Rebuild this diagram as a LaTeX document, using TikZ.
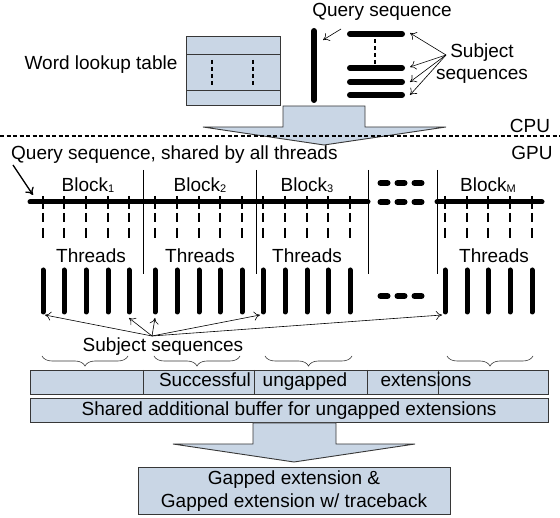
\documentclass[tikz,border=0pt]{standalone}
\usepackage{fontspec}
\setmainfont{Liberation Sans}
\usetikzlibrary{arrows.meta,decorations.pathreplacing}

\definecolor{boxblue}{RGB}{201,214,229}
\definecolor{edgegray}{RGB}{55,55,55}
\newcommand{\blocksub}[1]{\raisebox{-0.5pt}{\fontsize{11}{11}\selectfont #1}}

\begin{document}
\begin{tikzpicture}[x=1pt, y=-1pt,
    every node/.style={font=\fontsize{19}{22}\selectfont, inner sep=0pt, anchor=base},
    bluebox/.style={draw=edgegray, fill=boxblue, line width=0.9pt},
    seqbar/.style={line width=5pt, line cap=round},
    thinarrow/.style={-{To[length=6pt,width=9pt]}, line width=0.6pt},
    tick/.style={line width=1.1pt},
    sepline/.style={line width=0.7pt},
    curly/.style={decorate, decoration={brace, mirror, amplitude=10pt}, line width=0.6pt, edgegray}]
  \useasboundingbox (0,0) rectangle (560,518);

  % ---- CPU side: lookup table and sequences
  \node (wlt) at (101,70) {Word lookup table};
  \draw[bluebox] (186,36) rectangle (280,105);
  \draw[edgegray, line width=0.9pt] (186,54) -- (280,54) (186,90) -- (280,90);
  \draw[dashed, line width=1.3pt, dash pattern=on 4pt off 3pt] (212,60) -- (212,86) (253,60) -- (253,86);

  \node (qtitle) at (382,17) {Query sequence};
  \draw[seqbar, line width=6pt] (314,31) -- (314,100);
  \coordinate (qfrom) at (341,29);
  \coordinate (qto) at (323,40);
  \draw[thinarrow] (qfrom) -- (qto);

  \foreach \y in {34,68,82,95}
    \draw[seqbar, line width=6pt] (350,\y) -- (402,\y);
  \draw[line width=1.3pt, dash pattern=on 4pt off 3pt] (375,39) -- (375,64);
  \node[align=center] (subjtop) at (482,80) {Subject\\sequences};
  \coordinate (sfrom) at (446,55);
  \foreach \y/\n in {33/a,67/b,82/c,95/d} {
    \coordinate (s\n) at (410,\y);
    \draw[thinarrow] (sfrom) -- (s\n);
  }

  % transfer arrow CPU -> GPU
  \draw[bluebox] (283,106) -- (365,106) -- (365,127) -- (446,127) -- (324,145)
    -- (203,127) -- (283,127) -- cycle;

  \draw[line width=1.8pt, dash pattern=on 4pt off 2.5pt] (0,136) -- (560,136);
  \node (cpu) at (530,133) {CPU};
  \node (gpu) at (532,160) {GPU};

  % ---- GPU side: query shared by the blocks
  \node[anchor=base west] (qshared) at (11,160) {Query sequence, shared by all threads};
  \coordinate (qsfrom) at (13,165);
  \coordinate (qsto) at (33,195);
  \draw[-{To[length=7pt,width=10pt]}, line width=1.3pt] (qsfrom) -- (qsto);

  \draw[seqbar] (30,202) -- (368,202);
  \draw[seqbar] (437,202) -- (542,202);
  \foreach \y in {183,202,296}
    \foreach \x in {384,401,418}
      \draw[seqbar, line width=6pt] (\x-3.5,\y) -- (\x+3.5,\y);

  \foreach \x in {143,256,368,437}
    \draw[sepline] (\x,170) -- (\x,274);

  \foreach \x/\k in {88/1,200/2,307/3,488/M}
    \node at (\x,192) {Block\blocksub{\k}};
  \foreach \x in {91,200,307,494}
    \node at (\x,263) {Threads};

  \foreach \x in {43,64,86,108,129,155,177,199,220,242,263,285,307,328,350,445,467,488,510,532} {
    \draw[tick] (\x,196) -- (\x,209);
    \draw[tick] (\x,213) -- (\x,222) (\x,228) -- (\x,238);
    \draw[seqbar] (\x,270) -- (\x,312);
  }

  % subject sequences handed to the threads
  \node (subjlow) at (163,352) {Subject sequences};
  \coordinate (tfrom) at (152,336);
  \foreach \x/\y/\n in {45/315/a,129/318/b,155/318/c,260/315/d,442/315/e} {
    \coordinate (t\n) at (\x,\y);
    \draw[thinarrow] (tfrom) -- (t\n);
  }

  \foreach \a/\b in {42/128,154/240,265/352,447/533}
    \draw[curly] (\a,356) -- (\b,356);

  % result buffers
  \draw[bluebox] (30,370) rectangle (548,394);
  \foreach \x in {143,254,367,438}
    \draw[sepline, edgegray] (\x,370) -- (\x,394);
  \node (succ) at (205,387) {Successful};
  \node (ungap) at (305,387) {ungapped};
  \node (ext) at (426,387) {extensions};

  \draw[bluebox] (30,398) rectangle (548,422);
  \node (shared) at (289,416) {Shared additional buffer for ungapped extensions};

  \draw[bluebox] (253,423) -- (336,423) -- (336,444) -- (415,444) -- (294,462)
    -- (173,444) -- (253,444) -- cycle;

  \draw[bluebox] (138,467) rectangle (450,514);
  \node (gap1) at (294,485) {Gapped extension \&};
  \node (gap2) at (294,508) {Gapped extension w/ traceback};
\end{tikzpicture}
\end{document}
